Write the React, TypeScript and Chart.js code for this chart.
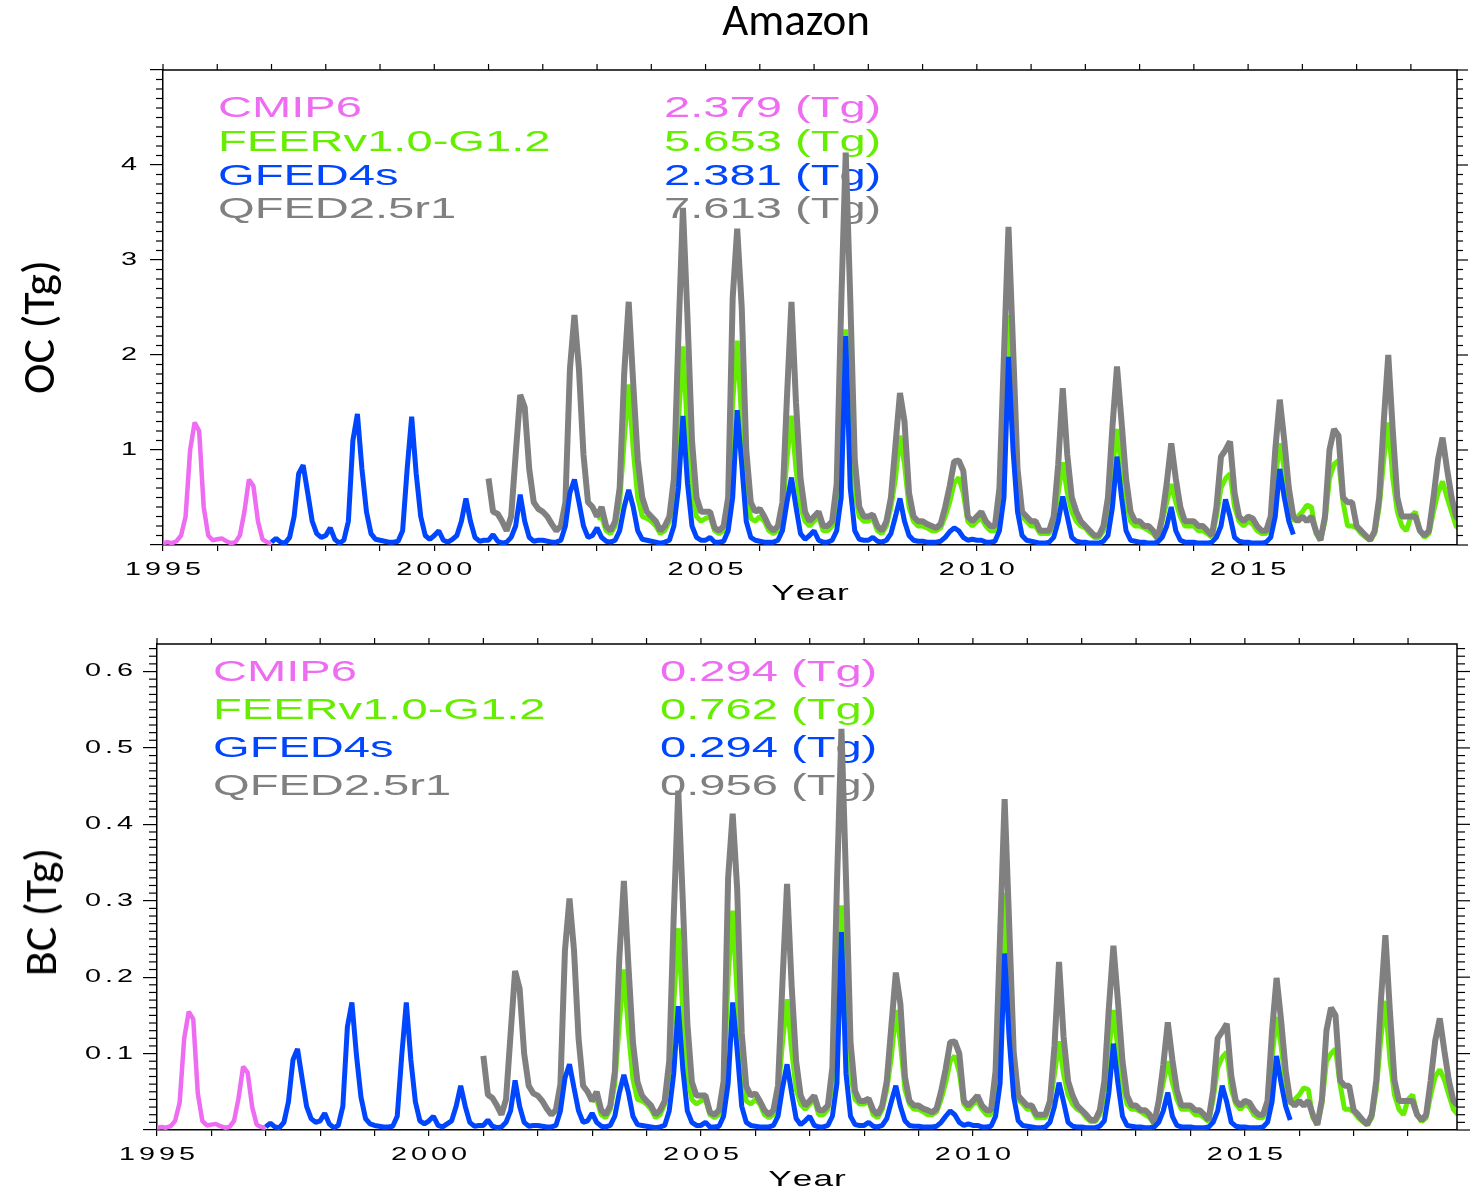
import React, { useEffect, useRef } from "react";
import { Chart, registerables } from "chart.js";

Chart.register(...registerables);

// ---------------- data ----------------
const SERIES_NAMES = ["CMIP6", "FEERv1.0-G1.2", "GFED4s", "QFED2.5r1"];
const SERIES_COLORS = ["#EE6CF2", "#66EE00", "#0046FF", "#808080"];
const OC_TOTALS = ["2.379", "5.653", "2.381", "7.613"];
const BC_TOTALS = ["0.294", "0.762", "0.294", "0.956"];
const YEAR_LABELS = [1995, 2000, 2005, 2010, 2015];
const OC_Y_LABELS = [1, 2, 3, 4];
const BC_Y_LABELS = [0.1, 0.2, 0.3, 0.4, 0.5, 0.6];

const CMIP6_START = 1995;
const GFED_START = 1997;
const QFED_START = 2001;
const FEER_START = 2003;

// OC monthly values (Tg), one row per year, Jan..Dec
const OC_CMIP6 = [
  [0.02, 0.03, 0.02, 0.04, 0.10, 0.30, 1.00, 1.29, 1.20, 0.40, 0.10, 0.05],
  [0.06, 0.07, 0.04, 0.02, 0.03, 0.10, 0.35, 0.69, 0.62, 0.25, 0.06, 0.03],
  [0.02],
];
const OC_GFED = [
  [0.03, 0.07, 0.03, 0.02, 0.08, 0.30, 0.75, 0.84, 0.55, 0.25, 0.12, 0.08],
  [0.10, 0.18, 0.06, 0.02, 0.05, 0.25, 1.10, 1.38, 0.80, 0.35, 0.12, 0.06],
  [0.05, 0.04, 0.03, 0.03, 0.04, 0.15, 0.80, 1.35, 0.75, 0.30, 0.10, 0.06],
  [0.10, 0.15, 0.05, 0.03, 0.06, 0.10, 0.25, 0.49, 0.25, 0.08, 0.04, 0.05],
  [0.05, 0.11, 0.04, 0.02, 0.03, 0.08, 0.20, 0.53, 0.25, 0.08, 0.04, 0.05],
  [0.05, 0.04, 0.03, 0.03, 0.05, 0.20, 0.55, 0.69, 0.45, 0.20, 0.08, 0.10],
  [0.18, 0.08, 0.04, 0.03, 0.05, 0.15, 0.40, 0.58, 0.40, 0.15, 0.06, 0.05],
  [0.04, 0.03, 0.02, 0.03, 0.05, 0.20, 0.60, 1.36, 0.65, 0.20, 0.08, 0.05],
  [0.05, 0.08, 0.03, 0.03, 0.04, 0.15, 0.50, 1.42, 0.85, 0.25, 0.08, 0.05],
  [0.04, 0.03, 0.03, 0.03, 0.05, 0.15, 0.45, 0.71, 0.40, 0.12, 0.06, 0.10],
  [0.15, 0.05, 0.03, 0.03, 0.05, 0.15, 0.50, 2.20, 0.60, 0.15, 0.06, 0.05],
  [0.05, 0.08, 0.04, 0.03, 0.05, 0.12, 0.30, 0.49, 0.25, 0.10, 0.05, 0.04],
  [0.04, 0.03, 0.03, 0.03, 0.04, 0.08, 0.14, 0.18, 0.15, 0.08, 0.05, 0.06],
  [0.05, 0.05, 0.03, 0.03, 0.04, 0.15, 0.50, 1.98, 1.00, 0.35, 0.10, 0.05],
  [0.04, 0.03, 0.02, 0.02, 0.03, 0.08, 0.25, 0.51, 0.30, 0.08, 0.04, 0.03],
  [0.03, 0.02, 0.02, 0.02, 0.04, 0.10, 0.40, 0.93, 0.50, 0.15, 0.05, 0.04],
  [0.03, 0.03, 0.02, 0.02, 0.03, 0.08, 0.20, 0.40, 0.15, 0.05, 0.03, 0.03],
  [0.03, 0.02, 0.02, 0.02, 0.03, 0.08, 0.20, 0.48, 0.30, 0.08, 0.04, 0.03],
  [0.03, 0.02, 0.02, 0.02, 0.03, 0.08, 0.30, 0.80, 0.50, 0.25, 0.11],
];
const OC_QFED = [
  [0.70, 0.35, 0.33, 0.25, 0.15, 0.30, 0.95, 1.58, 1.45, 0.80, 0.45, 0.38],
  [0.35, 0.30, 0.22, 0.15, 0.20, 0.45, 1.85, 2.42, 1.85, 0.95, 0.45, 0.40],
  [0.30, 0.40, 0.20, 0.15, 0.25, 0.60, 1.80, 2.56, 1.70, 0.90, 0.50, 0.35],
  [0.30, 0.25, 0.15, 0.20, 0.30, 0.70, 2.20, 3.55, 2.40, 1.10, 0.50, 0.35],
  [0.35, 0.35, 0.18, 0.15, 0.20, 0.50, 2.60, 3.33, 2.50, 1.00, 0.45, 0.35],
  [0.38, 0.30, 0.20, 0.15, 0.20, 0.45, 1.55, 2.56, 1.50, 0.70, 0.35, 0.25],
  [0.30, 0.35, 0.20, 0.20, 0.25, 0.64, 2.53, 4.13, 2.60, 0.90, 0.40, 0.30],
  [0.30, 0.32, 0.20, 0.15, 0.25, 0.50, 1.05, 1.60, 1.30, 0.55, 0.30, 0.25],
  [0.25, 0.22, 0.20, 0.18, 0.22, 0.40, 0.62, 0.88, 0.89, 0.78, 0.30, 0.25],
  [0.30, 0.35, 0.25, 0.20, 0.20, 0.60, 2.00, 3.35, 2.10, 0.80, 0.35, 0.30],
  [0.25, 0.25, 0.15, 0.15, 0.15, 0.30, 0.85, 1.65, 0.95, 0.50, 0.35, 0.25],
  [0.20, 0.15, 0.10, 0.10, 0.20, 0.50, 1.25, 1.88, 1.30, 0.70, 0.35, 0.25],
  [0.25, 0.20, 0.20, 0.15, 0.07, 0.30, 0.65, 1.07, 0.70, 0.40, 0.25, 0.25],
  [0.25, 0.20, 0.20, 0.15, 0.10, 0.40, 0.93, 1.00, 1.09, 0.55, 0.30, 0.25],
  [0.30, 0.28, 0.20, 0.15, 0.15, 0.30, 1.00, 1.53, 1.10, 0.60, 0.30, 0.25],
  [0.30, 0.25, 0.30, 0.15, 0.05, 0.30, 1.00, 1.22, 1.15, 0.50, 0.45, 0.45],
  [0.20, 0.15, 0.10, 0.05, 0.15, 0.50, 1.30, 2.00, 1.20, 0.50, 0.30, 0.30],
  [0.30, 0.30, 0.15, 0.10, 0.15, 0.50, 0.90, 1.13, 0.80, 0.50, 0.30, 0.25],
];
const OC_FEER = [
  [0.28, 0.30, 0.15, 0.12, 0.20, 0.45, 1.10, 1.69, 1.00, 0.50, 0.30, 0.28],
  [0.25, 0.20, 0.12, 0.15, 0.25, 0.55, 1.30, 2.09, 1.20, 0.55, 0.30, 0.25],
  [0.28, 0.30, 0.15, 0.12, 0.15, 0.40, 1.50, 2.15, 1.30, 0.55, 0.28, 0.25],
  [0.30, 0.25, 0.15, 0.12, 0.15, 0.35, 0.90, 1.36, 0.80, 0.40, 0.25, 0.20],
  [0.25, 0.30, 0.15, 0.15, 0.20, 0.45, 1.30, 2.27, 1.40, 0.55, 0.30, 0.25],
  [0.25, 0.28, 0.15, 0.12, 0.20, 0.40, 0.70, 1.15, 0.85, 0.40, 0.25, 0.20],
  [0.20, 0.18, 0.15, 0.15, 0.18, 0.30, 0.45, 0.65, 0.71, 0.55, 0.25, 0.20],
  [0.25, 0.28, 0.20, 0.15, 0.15, 0.45, 1.30, 2.42, 1.30, 0.55, 0.30, 0.25],
  [0.20, 0.20, 0.12, 0.12, 0.12, 0.25, 0.55, 0.87, 0.55, 0.35, 0.25, 0.20],
  [0.18, 0.12, 0.08, 0.08, 0.15, 0.35, 0.80, 1.22, 0.80, 0.45, 0.25, 0.20],
  [0.20, 0.18, 0.15, 0.12, 0.06, 0.25, 0.45, 0.64, 0.45, 0.30, 0.20, 0.20],
  [0.20, 0.15, 0.15, 0.12, 0.08, 0.30, 0.60, 0.70, 0.75, 0.40, 0.25, 0.20],
  [0.25, 0.22, 0.15, 0.12, 0.12, 0.25, 0.70, 1.07, 0.80, 0.45, 0.25, 0.30],
  [0.35, 0.42, 0.40, 0.12, 0.05, 0.25, 0.70, 0.85, 0.89, 0.45, 0.20, 0.20],
  [0.18, 0.12, 0.08, 0.05, 0.12, 0.40, 0.90, 1.29, 0.70, 0.35, 0.20, 0.15],
  [0.30, 0.35, 0.15, 0.08, 0.12, 0.35, 0.55, 0.67, 0.50, 0.35, 0.20, 0.15],
];

// BC monthly values (Tg)
const BC_CMIP6 = [
  [0.003, 0.004, 0.003, 0.005, 0.012, 0.036, 0.120, 0.155, 0.145, 0.048, 0.012, 0.006],
  [0.007, 0.008, 0.005, 0.003, 0.004, 0.012, 0.042, 0.083, 0.075, 0.030, 0.007, 0.004],
  [0.003],
];
const BC_GFED = [
  [0.004, 0.009, 0.004, 0.003, 0.010, 0.037, 0.092, 0.106, 0.068, 0.031, 0.015, 0.010],
  [0.012, 0.022, 0.008, 0.003, 0.006, 0.031, 0.135, 0.167, 0.098, 0.043, 0.015, 0.008],
  [0.006, 0.005, 0.004, 0.004, 0.005, 0.018, 0.098, 0.167, 0.092, 0.037, 0.012, 0.008],
  [0.012, 0.018, 0.006, 0.004, 0.008, 0.012, 0.031, 0.058, 0.031, 0.010, 0.005, 0.006],
  [0.006, 0.013, 0.005, 0.003, 0.004, 0.010, 0.025, 0.065, 0.031, 0.010, 0.005, 0.006],
  [0.006, 0.005, 0.004, 0.004, 0.006, 0.025, 0.068, 0.086, 0.055, 0.025, 0.010, 0.012],
  [0.022, 0.010, 0.005, 0.004, 0.006, 0.018, 0.049, 0.072, 0.049, 0.018, 0.007, 0.006],
  [0.005, 0.004, 0.003, 0.004, 0.006, 0.025, 0.074, 0.162, 0.080, 0.025, 0.010, 0.006],
  [0.006, 0.010, 0.004, 0.004, 0.005, 0.018, 0.061, 0.167, 0.104, 0.031, 0.010, 0.006],
  [0.005, 0.004, 0.004, 0.004, 0.006, 0.018, 0.055, 0.086, 0.049, 0.015, 0.007, 0.012],
  [0.018, 0.006, 0.004, 0.004, 0.006, 0.018, 0.061, 0.259, 0.074, 0.018, 0.007, 0.006],
  [0.006, 0.010, 0.005, 0.004, 0.006, 0.015, 0.037, 0.058, 0.031, 0.012, 0.006, 0.005],
  [0.005, 0.004, 0.004, 0.004, 0.005, 0.010, 0.018, 0.025, 0.020, 0.010, 0.006, 0.008],
  [0.006, 0.006, 0.004, 0.004, 0.005, 0.018, 0.061, 0.231, 0.120, 0.043, 0.012, 0.006],
  [0.005, 0.004, 0.003, 0.003, 0.004, 0.010, 0.031, 0.062, 0.037, 0.010, 0.005, 0.004],
  [0.004, 0.003, 0.003, 0.003, 0.005, 0.012, 0.049, 0.113, 0.061, 0.018, 0.006, 0.005],
  [0.004, 0.004, 0.003, 0.003, 0.004, 0.010, 0.025, 0.049, 0.018, 0.006, 0.004, 0.004],
  [0.004, 0.003, 0.003, 0.003, 0.004, 0.010, 0.025, 0.058, 0.037, 0.010, 0.005, 0.004],
  [0.004, 0.003, 0.003, 0.003, 0.004, 0.010, 0.037, 0.097, 0.061, 0.031, 0.013],
];
const BC_QFED = [
  [0.097, 0.046, 0.042, 0.032, 0.020, 0.040, 0.125, 0.208, 0.185, 0.100, 0.058, 0.048],
  [0.045, 0.038, 0.028, 0.020, 0.026, 0.060, 0.235, 0.303, 0.235, 0.120, 0.058, 0.050],
  [0.038, 0.050, 0.026, 0.020, 0.032, 0.076, 0.225, 0.326, 0.215, 0.115, 0.063, 0.045],
  [0.038, 0.032, 0.020, 0.026, 0.038, 0.090, 0.280, 0.444, 0.300, 0.140, 0.063, 0.045],
  [0.045, 0.045, 0.023, 0.020, 0.026, 0.064, 0.330, 0.414, 0.315, 0.127, 0.057, 0.045],
  [0.048, 0.038, 0.026, 0.020, 0.026, 0.058, 0.195, 0.322, 0.190, 0.090, 0.045, 0.032],
  [0.038, 0.045, 0.026, 0.026, 0.032, 0.082, 0.320, 0.525, 0.330, 0.115, 0.051, 0.038],
  [0.038, 0.041, 0.026, 0.020, 0.032, 0.064, 0.135, 0.206, 0.165, 0.070, 0.038, 0.032],
  [0.032, 0.028, 0.026, 0.023, 0.028, 0.051, 0.080, 0.115, 0.116, 0.100, 0.038, 0.032],
  [0.038, 0.045, 0.032, 0.026, 0.026, 0.077, 0.255, 0.433, 0.270, 0.102, 0.045, 0.038],
  [0.032, 0.032, 0.020, 0.020, 0.020, 0.038, 0.110, 0.220, 0.122, 0.064, 0.045, 0.032],
  [0.026, 0.020, 0.013, 0.013, 0.026, 0.064, 0.160, 0.241, 0.168, 0.090, 0.045, 0.032],
  [0.032, 0.026, 0.026, 0.020, 0.009, 0.038, 0.085, 0.141, 0.092, 0.052, 0.032, 0.032],
  [0.032, 0.026, 0.026, 0.020, 0.013, 0.052, 0.120, 0.129, 0.139, 0.071, 0.038, 0.032],
  [0.038, 0.036, 0.026, 0.020, 0.020, 0.038, 0.130, 0.199, 0.143, 0.078, 0.038, 0.032],
  [0.038, 0.032, 0.038, 0.020, 0.007, 0.040, 0.130, 0.160, 0.150, 0.065, 0.058, 0.058],
  [0.026, 0.020, 0.013, 0.007, 0.020, 0.065, 0.168, 0.255, 0.155, 0.065, 0.038, 0.038],
  [0.038, 0.038, 0.020, 0.013, 0.020, 0.065, 0.117, 0.146, 0.104, 0.065, 0.038, 0.032],
];
const BC_FEER = [
  [0.038, 0.040, 0.020, 0.016, 0.027, 0.060, 0.140, 0.210, 0.130, 0.066, 0.040, 0.038],
  [0.034, 0.027, 0.016, 0.020, 0.034, 0.073, 0.165, 0.264, 0.155, 0.073, 0.040, 0.034],
  [0.038, 0.040, 0.020, 0.016, 0.020, 0.053, 0.200, 0.287, 0.175, 0.073, 0.038, 0.034],
  [0.040, 0.034, 0.020, 0.016, 0.020, 0.046, 0.115, 0.171, 0.105, 0.053, 0.034, 0.027],
  [0.034, 0.040, 0.020, 0.020, 0.027, 0.060, 0.170, 0.294, 0.180, 0.073, 0.040, 0.034],
  [0.034, 0.038, 0.020, 0.016, 0.027, 0.053, 0.095, 0.157, 0.115, 0.053, 0.034, 0.027],
  [0.027, 0.024, 0.020, 0.020, 0.024, 0.040, 0.062, 0.090, 0.097, 0.075, 0.034, 0.027],
  [0.034, 0.038, 0.027, 0.020, 0.020, 0.060, 0.170, 0.310, 0.170, 0.073, 0.040, 0.034],
  [0.027, 0.027, 0.016, 0.016, 0.016, 0.034, 0.073, 0.116, 0.073, 0.046, 0.034, 0.027],
  [0.024, 0.016, 0.011, 0.011, 0.020, 0.046, 0.105, 0.157, 0.105, 0.060, 0.034, 0.027],
  [0.027, 0.024, 0.020, 0.016, 0.008, 0.034, 0.062, 0.090, 0.062, 0.040, 0.027, 0.027],
  [0.027, 0.020, 0.020, 0.016, 0.011, 0.040, 0.082, 0.095, 0.102, 0.053, 0.034, 0.027],
  [0.034, 0.030, 0.020, 0.016, 0.016, 0.034, 0.095, 0.148, 0.110, 0.060, 0.034, 0.040],
  [0.046, 0.055, 0.053, 0.016, 0.007, 0.034, 0.090, 0.100, 0.106, 0.060, 0.027, 0.027],
  [0.024, 0.016, 0.011, 0.007, 0.016, 0.053, 0.120, 0.169, 0.092, 0.046, 0.027, 0.020],
  [0.040, 0.046, 0.020, 0.011, 0.016, 0.046, 0.070, 0.079, 0.066, 0.046, 0.027, 0.020],
];

// ---------------- helpers ----------------
const TEXT_FONT = '"Liberation Sans", Arial, Helvetica, sans-serif';
const FIG_W = 1473;

type TextStyle = { size: number; stretch: number; spacing: number; color: string };
const TICK_TEXT: TextStyle = { size: 18, stretch: 1.6, spacing: 4, color: "#000" };
const YEAR_TEXT: TextStyle = { size: 22, stretch: 1.6, spacing: 1, color: "#000" };
const LEGEND_SIZE = 30;
const LEGEND_STRETCH = 1.57;

function drawStretched(
  ctx: CanvasRenderingContext2D,
  text: string,
  x: number,
  y: number,
  align: "left" | "center" | "right",
  st: TextStyle,
  baseline: CanvasTextBaseline = "middle"
) {
  ctx.save();
  ctx.font = `${st.size}px ${TEXT_FONT}`;
  ctx.fillStyle = st.color;
  ctx.textBaseline = baseline;
  ctx.textAlign = "left";
  const chars = Array.from(text);
  const widths = chars.map((c) => ctx.measureText(c).width * st.stretch);
  const total = widths.reduce((a, b) => a + b, 0) + st.spacing * (chars.length - 1);
  let cx = align === "left" ? x : align === "right" ? x - total : x - total / 2;
  chars.forEach((c, i) => {
    ctx.save();
    ctx.translate(cx, y);
    ctx.scale(st.stretch, 1);
    ctx.fillText(c, 0, 0);
    ctx.restore();
    cx += widths[i] + st.spacing;
  });
  ctx.restore();
}

function toPoints(start: number, rows: number[][]) {
  return rows.flat().map((v, i) => ({ x: start + i / 12, y: v }));
}

type Panel = {
  height: number;
  plot: { left: number; top: number; right: number; bottom: number };
  xMax: number;
  yMax: number;
  yMajor: number;
  yMinor: number;
  yLabels: number[];
  yDecimals: number;
  majorLeft: number;
  minorLeft: number;
  majorRight: number;
  minorRight: number;
  xTick: number;
  yLabelRight: number;
  xLabelY: number;
  yearY: number;
  legendX: number;
  valueX: number;
  legendBaselines: number[];
  totals: string[];
  cmip6: number[][];
  gfed: number[][];
  qfed: number[][];
  feer: number[][];
};

const OC_PANEL: Panel = {
  height: 610,
  plot: { left: 163, top: 70, right: 1457, bottom: 545 },
  xMax: 2018.85,
  yMax: 5,
  yMajor: 1,
  yMinor: 0.1,
  yLabels: OC_Y_LABELS,
  yDecimals: 0,
  majorLeft: 13,
  minorLeft: 7,
  majorRight: 11,
  minorRight: 6,
  xTick: 6,
  yLabelRight: 137,
  xLabelY: 570,
  yearY: 594,
  legendX: 218,
  valueX: 664,
  legendBaselines: [117, 151, 185, 218],
  totals: OC_TOTALS,
  cmip6: OC_CMIP6,
  gfed: OC_GFED,
  qfed: OC_QFED,
  feer: OC_FEER,
};

const BC_PANEL: Panel = {
  height: 581,
  plot: { left: 157, top: 34, right: 1457, bottom: 520 },
  xMax: 2018.9,
  yMax: 0.636,
  yMajor: 0.1,
  yMinor: 0.01,
  yLabels: BC_Y_LABELS,
  yDecimals: 1,
  majorLeft: 14,
  minorLeft: 8,
  majorRight: 13,
  minorRight: 8,
  xTick: 6,
  yLabelRight: 133,
  xLabelY: 545,
  yearY: 570,
  legendX: 213,
  valueX: 660,
  legendBaselines: [71, 109, 147, 185],
  totals: BC_TOTALS,
  cmip6: BC_CMIP6,
  gfed: BC_GFED,
  qfed: BC_QFED,
  feer: BC_FEER,
};

function line(ctx: CanvasRenderingContext2D, x1: number, y1: number, x2: number, y2: number) {
  ctx.beginPath();
  ctx.moveTo(x1, y1);
  ctx.lineTo(x2, y2);
  ctx.stroke();
}

function makeFramePlugin(p: Panel) {
  return {
    id: "idlFrame",
    beforeDatasetsDraw(chart: any) {
      const ctx: CanvasRenderingContext2D = chart.ctx;
      SERIES_NAMES.forEach((name, i) => {
        const st: TextStyle = { size: LEGEND_SIZE, stretch: LEGEND_STRETCH, spacing: 0, color: SERIES_COLORS[i] };
        drawStretched(ctx, name, p.legendX, p.legendBaselines[i], "left", st, "alphabetic");
        drawStretched(ctx, `${p.totals[i]} (Tg)`, p.valueX, p.legendBaselines[i], "left", st, "alphabetic");
      });
    },
    afterDraw(chart: any) {
      const ctx: CanvasRenderingContext2D = chart.ctx;
      const a = chart.chartArea;
      const xs = chart.scales.x;
      const ys = chart.scales.y;
      ctx.save();
      ctx.strokeStyle = "#000";
      ctx.lineWidth = 1.5;
      ctx.beginPath();
      ctx.moveTo(a.left, a.top);
      ctx.lineTo(a.right, a.top);
      ctx.lineTo(a.right, a.bottom);
      ctx.stroke();
      ctx.lineWidth = 1.2;
      for (let yr = Math.ceil(xs.min); yr <= xs.max; yr++) {
        const px = xs.getPixelForValue(yr);
        line(ctx, px, a.top, px, a.top - p.xTick);
      }
      const nMinor = Math.floor(p.yMax / p.yMinor + 1e-6);
      const ratio = Math.round(p.yMajor / p.yMinor);
      for (let i = 0; i <= nMinor; i++) {
        const py = ys.getPixelForValue(i * p.yMinor);
        const major = i % ratio === 0;
        if (!major) line(ctx, a.left - p.minorLeft, py, a.left, py);
        line(ctx, a.right, py, a.right + (major ? p.majorRight : p.minorRight), py);
      }
      ctx.restore();
      p.yLabels.forEach((v) =>
        drawStretched(ctx, v.toFixed(p.yDecimals), p.yLabelRight, ys.getPixelForValue(v), "right", TICK_TEXT)
      );
      YEAR_LABELS.forEach((v) =>
        drawStretched(ctx, String(v), xs.getPixelForValue(v), p.xLabelY, "center", TICK_TEXT)
      );
      drawStretched(ctx, "Year", (a.left + a.right) / 2, p.yearY, "center", YEAR_TEXT);
    },
  };
}

function makeConfig(p: Panel): any {
  const ds = (label: string, rows: number[][], start: number, color: string, width: number, order: number) => ({
    label,
    data: toPoints(start, rows),
    borderColor: color,
    backgroundColor: color,
    borderWidth: width,
    pointRadius: 0,
    tension: 0,
    fill: false,
    order,
    borderJoinStyle: "bevel",
  });
  return {
    type: "line",
    data: {
      datasets: [
        ds(SERIES_NAMES[2], p.gfed, GFED_START, SERIES_COLORS[2], 5, 0),
        ds(SERIES_NAMES[3], p.qfed, QFED_START, SERIES_COLORS[3], 6, 1),
        ds(SERIES_NAMES[1], p.feer, FEER_START, SERIES_COLORS[1], 5, 2),
        ds(SERIES_NAMES[0], p.cmip6, CMIP6_START, SERIES_COLORS[0], 4.5, 3),
      ],
    },
    options: {
      responsive: false,
      animation: false,
      events: [],
      layout: { padding: { left: 0, top: p.plot.top, right: FIG_W - p.plot.right, bottom: 0 } },
      plugins: { legend: { display: false }, tooltip: { enabled: false }, title: { display: false } },
      scales: {
        x: {
          type: "linear",
          min: 1995,
          max: p.xMax,
          afterFit: (s: any) => {
            s.height = p.height - p.plot.bottom;
          },
          afterBuildTicks: (s: any) => {
            const t = [];
            for (let yr = 1995; yr <= p.xMax; yr++) t.push({ value: yr });
            s.ticks = t;
          },
          ticks: { display: false },
          grid: { drawOnChartArea: false, drawTicks: true, tickLength: p.xTick, color: "#000", lineWidth: 1.2 },
          border: { display: true, color: "#000", width: 1.5 },
        },
        y: {
          type: "linear",
          min: 0,
          max: p.yMax,
          afterFit: (s: any) => {
            s.width = p.plot.left;
          },
          afterBuildTicks: (s: any) => {
            const t = [];
            const n = Math.floor(p.yMax / p.yMajor + 1e-6);
            for (let i = 0; i <= n; i++) t.push({ value: i * p.yMajor });
            s.ticks = t;
          },
          ticks: { display: false },
          grid: { drawOnChartArea: false, drawTicks: true, tickLength: p.majorLeft, color: "#000", lineWidth: 1.2 },
          border: { display: true, color: "#000", width: 1.5 },
        },
      },
    },
    plugins: [makeFramePlugin(p)],
  };
}

function PanelChart({ panel, top }: { panel: Panel; top: number }) {
  const ref = useRef<HTMLCanvasElement | null>(null);
  useEffect(() => {
    const chart = new Chart(ref.current as HTMLCanvasElement, makeConfig(panel));
    return () => chart.destroy();
  }, [panel]);
  return (
    <canvas
      ref={ref}
      width={FIG_W}
      height={panel.height}
      style={{ position: "absolute", left: 0, top, width: FIG_W, height: panel.height }}
    />
  );
}

const TITLE_FONT = 'Carlito, Lato, "Open Sans", sans-serif';

const labelStyle = (left: number, top: number, size: number, rotate: boolean): React.CSSProperties => ({
  position: "absolute",
  left,
  top,
  transform: rotate ? "translate(-50%, -50%) rotate(-90deg)" : "translate(-50%, -50%)",
  fontFamily: TITLE_FONT,
  fontSize: size,
  lineHeight: 1,
  whiteSpace: "nowrap",
  color: "#000",
});

export default function App() {
  return (
    <div
      style={{
        position: "absolute",
        left: 0,
        top: 0,
        width: FIG_W,
        height: 1191,
        background: "#fff",
        overflow: "hidden",
      }}
    >
      <PanelChart panel={OC_PANEL} top={0} />
      <PanelChart panel={BC_PANEL} top={610} />
      <div style={labelStyle(796, 19, 45, false)}>Amazon</div>
      <div style={labelStyle(38, 327, 46, true)}>OC (Tg)</div>
      <div style={labelStyle(40, 912, 46, true)}>BC (Tg)</div>
    </div>
  );
}
